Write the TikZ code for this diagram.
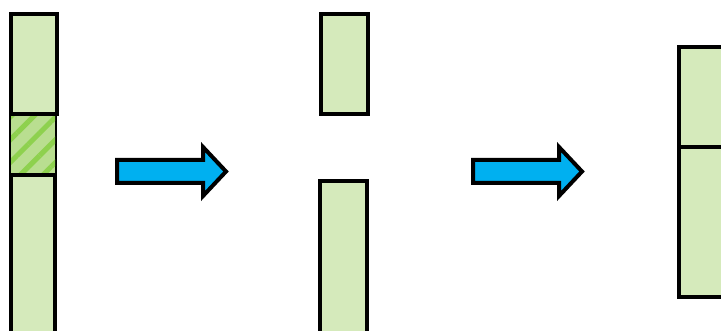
\documentclass[tikz,border=0pt]{standalone}
\usetikzlibrary{patterns.meta}
\definecolor{lgreen}{HTML}{D5EABB}
\definecolor{hbg}{HTML}{B9DE90}
\definecolor{hline}{HTML}{8ED14E}
\definecolor{arrowblue}{HTML}{00B0F0}
\tikzset{
  blk/.style={draw=black, line width=4pt, fill=lgreen},
  bigarrow/.style={draw=black, line width=4pt, fill=arrowblue, line join=miter},
}
\begin{document}
\begin{tikzpicture}[x=1pt,y=-1pt]
\useasboundingbox (0,0) rectangle (721,331);
% left column
\coordinate (la) at (11,95);
\coordinate (lb) at (55,334);
\draw[blk] (la) rectangle (lb);
\coordinate (ha) at (11,114);
\coordinate (hb) at (55,175.5);
\fill[hbg] (ha) rectangle (hb);
\fill[pattern={Lines[angle=45,distance=16pt,line width=5pt]}, pattern color=hline] (ha) rectangle (hb);
\draw[black, line width=4pt] (11,175.5) -- (55,175.5);
\draw[blk] (11,14) rectangle (57,114);
% arrow 1
\draw[bigarrow] (117,160) -- (203,160) -- (203,147) -- (226,171.5) -- (203,196) -- (203,183) -- (117,183) -- cycle;
% middle column
\draw[blk] (321,14) rectangle (368,114);
\draw[blk] (320,181) rectangle (367,334);
% arrow 2
\draw[bigarrow] (473,160) -- (559,160) -- (559,147) -- (582,171.5) -- (559,196) -- (559,183) -- (473,183) -- cycle;
% right column
\draw[blk] (679,47) rectangle (726,297);
\draw[black, line width=4pt] (679,147) -- (726,147);
\end{tikzpicture}
\end{document}
